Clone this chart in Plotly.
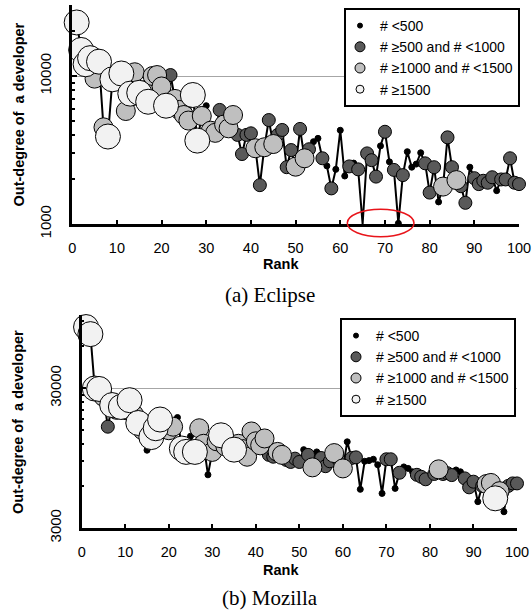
import math
import plotly.graph_objects as go

# ---------------- data ----------------
ranks = list(range(1, 101))

eclipse_out = [
    23000, 15000, 12000, 13200, 9600, 12500, 4500, 3900, 9500, 10200,
    10400, 5800, 7600, 10600, 7700, 8000, 6700, 10000, 10150, 8500,
    6300, 10150, 7000, 5900, 5450, 5000, 7440, 3660, 5370, 6300,
    4270, 4130, 5900, 4700, 4430, 5450, 4000, 2970, 4000, 4100,
    3250, 1830, 3300, 5040, 3470, 4000, 4320, 2420, 3160, 2440,
    4390, 2780, 3200, 3600, 3790, 2780, 2470, 1740, 2340, 4300,
    2110, 2450, 2580, 2340, 1000, 3000, 2700, 2090, 3370, 4200,
    2630, 2320, 1010, 2140, 3080, 2420, 2540, 3030, 2570, 1630,
    2420, 1410, 1790, 3850, 2420, 1980, 1800, 1390, 2420, 2040,
    1860, 1960, 1900, 2070, 1680, 2000, 2000, 2780, 1900, 1860,
]
eclipse_grp = list(
    "WWWWLWLWWL" "WLWLWLWLLL" "WDLLLLWWLB" "LLDLLLDDDD" "LDLDLDDDDL"
    "DLDBBDBDBB" "BDBDBDDDBD" "BDBDBBBBDD" "DBLDDLDDBD" "DDDDBDDDDD"
)

mozilla_out = [
    82000, 73000, 29800, 29600, 26000, 15900, 22700, 21000, 22000, 20900,
    24600, 19500, 16900, 15000, 10800, 13400, 15500, 17900, 16500, 15000,
    15900, 18500, 11100, 10500, 13600, 10500, 15500, 12000, 7200, 10500,
    12500, 13800, 11500, 12000, 10900, 12000, 11000, 9700, 14700, 12500,
    11700, 13100, 10000, 9700, 10500, 10000, 9200, 8900, 9400, 8900,
    10900, 10000, 8140, 10500, 9500, 8300, 9000, 10300, 9200, 8000,
    12400, 9500, 9600, 5670, 9000, 9100, 9300, 8500, 5300, 9300,
    9300, 5760, 7450, 8200, 8000, 7570, 7200, 6970, 6690, 7100,
    7300, 7880, 7300, 7400, 7170, 7800, 7570, 6790, 5860, 6430,
    4630, 6000, 6190, 6300, 4890, 5500, 3920, 6000, 6250, 6250,
]
mozilla_grp = list(
    "WWWWLDWLWL" "WLWLBWWWLL" "LBWWBWLLBL" "LWLLWLLLLL" "LLDDLLDDDD"
    "BDLBDDDLDL" "BDDBBBBBBD" "DBDBBBDDDB" "DLDDDBBDDD" "BDLLWLBDDD"
)

cat_codes = ["B", "D", "L", "W"]
cat_names = ["# <500", "# \u2265500 and # <1000", "# \u22651000 and # <1500", "# \u22651500"]
cat_colors = ["#000000", "#595959", "#bfbfbf", "#f2f2f2"]
cat_sizes = [6, 13, 19, 25]
legend_sizes = [5, 10, 10, 8]

eclipse_yticks = [1000, 10000]
eclipse_minor = [2000, 3000, 4000, 5000, 6000, 7000, 8000, 9000, 20000]
mozilla_yticks = [3000, 30000]
mozilla_minor = [6000, 9000, 12000, 15000, 18000, 21000, 24000, 27000, 60000, 90000]
x_ticks = list(range(0, 101, 10))

assert len(eclipse_out) == 100 and len(eclipse_grp) == 100
assert len(mozilla_out) == 100 and len(mozilla_grp) == 100

W, H = 532, 613
SANS = "Liberation Sans, Arial, sans-serif"
SERIF = "Liberation Serif, Times New Roman, serif"


def px(x):
    return x / W


def py(y):
    return (H - y) / H


fig = go.Figure()


def add_panel(vals, grp, xa, ya, legend_name):
    fig.add_trace(go.Scatter(
        x=ranks, y=vals, mode="lines", xaxis=xa, yaxis=ya,
        line=dict(color="black", width=2), showlegend=False, hoverinfo="skip"))
    for code, name, col, sz in zip(cat_codes, cat_names, cat_colors, cat_sizes):
        xs = [r for r, g in zip(ranks, grp) if g == code]
        ys = [v for v, g in zip(vals, grp) if g == code]
        fig.add_trace(go.Scatter(
            x=xs, y=ys, mode="markers", xaxis=xa, yaxis=ya, name=name,
            marker=dict(color=col, size=sz, line=dict(color="black", width=1)),
            showlegend=False, cliponaxis=False))
    for code, name, col, lsz in zip(cat_codes, cat_names, cat_colors, legend_sizes):
        fig.add_trace(go.Scatter(
            x=[None], y=[None], mode="markers", xaxis=xa, yaxis=ya, name=name,
            marker=dict(color=col, size=lsz, line=dict(color="black", width=1)),
            legend=legend_name, showlegend=True))


add_panel(eclipse_out, eclipse_grp, "x", "y", "legend")
add_panel(mozilla_out, mozilla_grp, "x2", "y2", "legend2")


def xaxis_cfg(x0, x1, anchor):
    return dict(
        domain=[px(x0), px(x1)], range=[0, 100], anchor=anchor, automargin=False,
        tickmode="array", tickvals=x_ticks, ticks="inside", ticklen=4, tickwidth=1.5,
        tickcolor="black", showline=True, linewidth=2.5, linecolor="black",
        showgrid=False, zeroline=False, ticklabelstandoff=9,
        tickfont=dict(family=SANS, size=14.5, color="black"))


def yaxis_cfg(top_px, bot_px, lo, hi, ticks, minor, anchor):
    return dict(
        type="log", range=[math.log10(lo), math.log10(hi)], anchor=anchor, automargin=False,
        domain=[py(bot_px), min(1.0, py(top_px))],
        tickmode="array", tickvals=ticks, ticktext=[str(t) for t in ticks],
        tickangle=-90, ticks="inside", ticklen=5, tickwidth=1.5, tickcolor="black",
        showline=True, linewidth=2.5, linecolor="black", zeroline=False,
        showgrid=True, gridcolor="#a6a6a6", gridwidth=1, ticklabelstandoff=12,
        tickfont=dict(family=SANS, size=15, color="black"),
        minor=dict(tickmode="array", tickvals=minor, ticks="inside", ticklen=3,
                   tickwidth=1.5, tickcolor="black", showgrid=False))


legend_common = dict(
    xanchor="right", yanchor="top", bgcolor="white", bordercolor="black",
    borderwidth=2, font=dict(family=SANS, size=14, color="black"),
    indentation=-6, itemsizing="trace")

# Eclipse: 1000 at y=224, 148 px per decade, axis top at y=5
ecl_top_val = 1000 * 10 ** ((224 - 5) / 148)

fig.update_layout(
    width=W, height=H, margin=dict(l=0, r=0, t=0, b=0, autoexpand=False),
    paper_bgcolor="white", plot_bgcolor="white",
    xaxis=xaxis_cfg(72.2, 519, "y"),
    yaxis=yaxis_cfg(5, 224, 1000, ecl_top_val, eclipse_yticks, eclipse_minor, "x"),
    xaxis2=xaxis_cfg(81.7, 517, "y2"),
    yaxis2=yaxis_cfg(315, 528, 3000, 100000, mozilla_yticks, mozilla_minor, "x2"),
    legend=dict(x=px(520), y=py(8), **legend_common),
    legend2=dict(x=px(516), y=py(318), **legend_common),
)

title_font = dict(family=SANS, size=14.5, color="black", weight="bold")
ann = [
    dict(text="Out-degree of\u00a0 a developer", x=px(18.5), y=py(115), textangle=-90, font=title_font),
    dict(text="Rank", x=px(281), y=py(264), font=title_font),
    dict(text="(a) Eclipse", x=px(270), y=py(295), font=dict(family=SERIF, size=21, color="black")),
    dict(text="Out-degree of\u00a0 a developer", x=px(18), y=py(422), textangle=-90, font=title_font),
    dict(text="Rank", x=px(281), y=py(570), font=title_font),
    dict(text="(b) Mozilla", x=px(270), y=py(598), font=dict(family=SERIF, size=21, color="black")),
]
for a in ann:
    fig.add_annotation(xref="paper", yref="paper", xanchor="center", yanchor="middle",
                       showarrow=False, **a)

# red ellipse highlighting the drops to the axis (Eclipse): pixels x 347..414, y 209..237
ax_x0, ax_x1, ax_top, ax_bot = 72.2, 519, 5, 224
fig.add_shape(type="circle", xref="x", yref="y domain",
              x0=(347.3 - ax_x0) / (ax_x1 - ax_x0) * 100, x1=(414 - ax_x0) / (ax_x1 - ax_x0) * 100,
              y0=(ax_bot - 236.7) / (ax_bot - ax_top), y1=(ax_bot - 209.3) / (ax_bot - ax_top),
              line=dict(color="#e8141a", width=1.5), layer="above")

# remove the browser's default 8px page margin so the 532x613 figure fills the window exactly
fig.write_html(
    "out.html",
    config={"displayModeBar": False},
    post_script="document.body.style.margin='0';document.documentElement.style.overflow='hidden';",
)
